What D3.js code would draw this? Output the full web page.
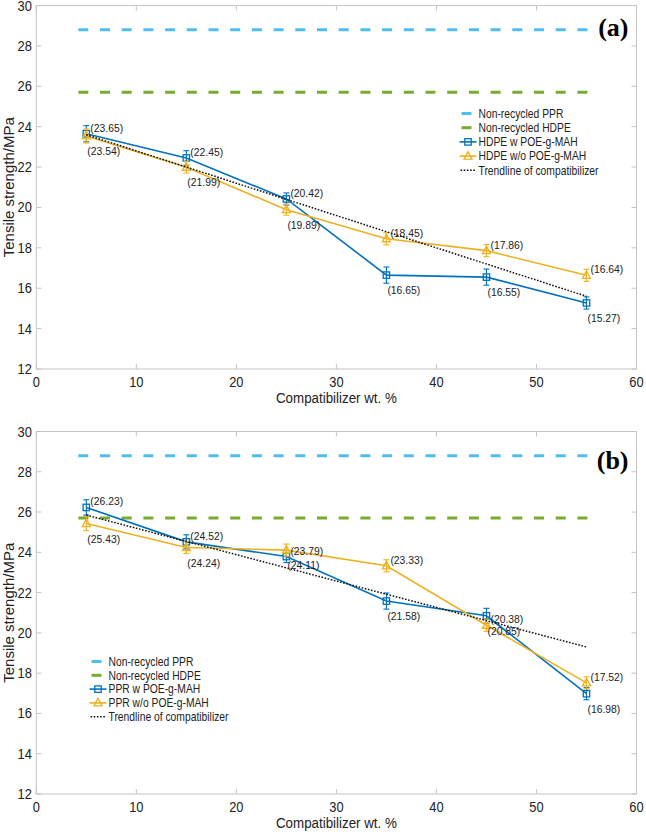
<!DOCTYPE html>
<html><head><meta charset="utf-8">
<script src="https://cdn.jsdelivr.net/npm/d3@7"></script>
<style>body{margin:0;background:#fff}</style>
</head><body>
<svg id="c" width="646" height="832" xmlns="http://www.w3.org/2000/svg"></svg>
<script>
// ---------- data ----------
const xTicks = [0, 10, 20, 30, 40, 50, 60];
const yTicks = [12, 14, 16, 18, 20, 22, 24, 26, 28, 30];
const loadings = [5, 15, 25, 35, 45, 55];
const refRange = [4.2, 55.2];
const refPPR = 28.8;
const refHDPE = 25.7;

// panel (a)
const hdpeWith = [23.65, 22.45, 20.42, 16.65, 16.55, 15.27];
const hdpeWithErr = [0.4, 0.36, 0.3, 0.4, 0.4, 0.3];
const hdpeWithout = [23.54, 21.99, 19.89, 18.45, 17.86, 16.64];
const hdpeWithoutErr = [0.35, 0.28, 0.27, 0.3, 0.3, 0.3];
const trendA = [[5, 23.6], [55, 15.6]];

// panel (b)
const pprWith = [26.23, 24.52, 23.79, 21.58, 20.85, 16.98];
const pprWithErr = [0.38, 0.35, 0.3, 0.4, 0.37, 0.3];
const pprWithout = [25.43, 24.24, 24.11, 23.33, 20.38, 17.52];
const pprWithoutErr = [0.35, 0.3, 0.3, 0.3, 0.3, 0.3];
const trendB = [[5, 25.85], [55, 19.3]];

// label placement: "u" = upper right, "b" = below
const withLabelPos = ["u", "u", "u", "b", "b", "b"];
const withoutLabelPos = ["b", "b", "b", "u", "u", "u"];

const legendA = ["Non-recycled PPR", "Non-recycled HDPE", "HDPE w POE-g-MAH", "HDPE w/o POE-g-MAH", "Trendline of compatibilizer"];
const legendB = ["Non-recycled PPR", "Non-recycled HDPE", "PPR w POE-g-MAH", "PPR w/o POE-g-MAH", "Trendline of compatibilizer"];

// ---------- style ----------
const C_PPR = "#4DBEEE", C_HDPE = "#77AC30", C_W = "#0072BD", C_WO = "#EDB120";
const AXIS = "#c4c4c4", TXT = "#222";
const FONT = "'Liberation Sans', Arial, Helvetica, sans-serif";

const svg = d3.select("#c");

function txt(g, x, y, s, size, k, anchor, opts = {}) {
  return g.append("text")
    .attr("transform", `translate(${x},${y}) scale(${k},1)`)
    .attr("text-anchor", anchor)
    .attr("font-family", opts.family || FONT)
    .attr("font-weight", opts.weight || "normal")
    .attr("font-size", size)
    .attr("fill", opts.fill || TXT)
    .text(s);
}

function marker(g, type, cx, cy, color) {
  if (type === "square") {
    g.append("rect").attr("x", cx - 3.2).attr("y", cy - 3.2).attr("width", 6.4).attr("height", 6.4)
      .attr("fill", "none").attr("stroke", color).attr("stroke-width", 1.3);
  } else {
    const h = 4;
    g.append("path").attr("d", `M${cx},${cy - h - 0.5} L${cx + 4},${cy + h - 1} L${cx - 4},${cy + h - 1} Z`)
      .attr("fill", "none").attr("stroke", color).attr("stroke-width", 1.3);
  }
}

function panel(cfg) {
  const { top, bottom, left, right } = cfg;
  const x = d3.scaleLinear().domain([0, 60]).range([left, right]);
  const y = d3.scaleLinear().domain([12, 30]).range([bottom, top]);
  const g = svg.append("g");

  // frame
  g.append("rect").attr("x", left).attr("y", top).attr("width", right - left).attr("height", bottom - top)
    .attr("fill", "none").attr("stroke", AXIS).attr("stroke-width", 1);

  // ticks (inside, all four sides)
  const tl = 5;
  xTicks.forEach(t => {
    const px = x(t);
    g.append("line").attr("x1", px).attr("x2", px).attr("y1", bottom).attr("y2", bottom - tl).attr("stroke", AXIS);
    g.append("line").attr("x1", px).attr("x2", px).attr("y1", top).attr("y2", top + tl).attr("stroke", AXIS);
    txt(g, px, bottom + 17.7, String(t), 14, 0.92, "middle");
  });
  yTicks.forEach(t => {
    const py = y(t);
    g.append("line").attr("x1", left).attr("x2", left + tl).attr("y1", py).attr("y2", py).attr("stroke", AXIS);
    g.append("line").attr("x1", right).attr("x2", right - tl).attr("y1", py).attr("y2", py).attr("stroke", AXIS);
    txt(g, left - 4.5, py + 5, String(t), 14, 0.92, "end");
  });

  // axis titles
  txt(g, (left + right) / 2, bottom + 34, "Compatibilizer wt. %", 15, 0.89, "middle");
  g.append("text")
    .attr("transform", `translate(13.5,${(top + bottom) / 2}) rotate(-90)`)
    .attr("text-anchor", "middle").attr("font-family", FONT).attr("font-size", 15).attr("fill", TXT)
    .text("Tensile strength/MPa");

  // reference dashed lines
  [[refPPR, C_PPR], [refHDPE, C_HDPE]].forEach(([v, c]) => {
    g.append("line").attr("x1", x(refRange[0])).attr("x2", x(refRange[1])).attr("y1", y(v)).attr("y2", y(v))
      .attr("stroke", c).attr("stroke-width", 3).attr("stroke-dasharray", "10,11.7");
  });

  const line = d3.line().x(d => x(d[0])).y(d => y(d[1]));

  // series
  const series = [
    { vals: cfg.withV, err: cfg.withE, color: C_W, mk: "square", pos: withLabelPos },
    { vals: cfg.withoutV, err: cfg.withoutE, color: C_WO, mk: "triangle", pos: withoutLabelPos }
  ];
  series.forEach(s => {
    const pts = loadings.map((l, i) => [l, s.vals[i]]);
    g.append("path").attr("d", line(pts)).attr("fill", "none").attr("stroke", s.color).attr("stroke-width", 1.6);
    pts.forEach((p, i) => {
      const px = x(p[0]);
      const y1 = y(p[1] - s.err[i]), y2 = y(p[1] + s.err[i]);
      g.append("line").attr("x1", px).attr("x2", px).attr("y1", y1).attr("y2", y2).attr("stroke", s.color).attr("stroke-width", 1.1);
      [y1, y2].forEach(yy => g.append("line").attr("x1", px - 3).attr("x2", px + 3).attr("y1", yy).attr("y2", yy)
        .attr("stroke", s.color).attr("stroke-width", 1.1));
      marker(g, s.mk, px, y(p[1]), s.color);
    });
  });

  // trendline
  g.append("path").attr("d", line(cfg.trend)).attr("fill", "none").attr("stroke", "#111")
    .attr("stroke-width", 1.5).attr("stroke-dasharray", "1.6,1.6");

  // data labels
  series.forEach(s => {
    loadings.forEach((l, i) => {
      const px = x(l), py = y(s.vals[i]);
      const lab = "(" + s.vals[i].toFixed(2) + ")";
      if (s.pos[i] === "u") txt(g, px + 4, py - 2, lab, 11.5, 0.9, "start");
      else txt(g, px + 1, py + 19, lab, 11.5, 0.9, "start");
    });
  });

  // panel letter
  txt(g, right - 8, cfg.letterY, cfg.letter, 26, 1, "end",
    { family: "'Liberation Serif', 'Times New Roman', serif", weight: "bold", fill: "#000" });

  // legend
  const L = cfg.legend;
  const kinds = [
    { t: "ref", c: C_PPR }, { t: "ref", c: C_HDPE },
    { t: "ser", c: C_W, mk: "square" }, { t: "ser", c: C_WO, mk: "triangle" },
    { t: "trend", c: "#111" }
  ];
  kinds.forEach((kd, i) => {
    const ry = L.y + i * L.dy;
    if (kd.t === "ref") {
      g.append("line").attr("x1", L.x + 2).attr("x2", L.x + 12).attr("y1", ry).attr("y2", ry)
        .attr("stroke", kd.c).attr("stroke-width", 3);
    } else if (kd.t === "ser") {
      g.append("line").attr("x1", L.x).attr("x2", L.x + 17).attr("y1", ry).attr("y2", ry)
        .attr("stroke", kd.c).attr("stroke-width", 1.6);
      marker(g, kd.mk, L.x + 8.5, ry, kd.c);
    } else {
      g.append("line").attr("x1", L.x + 1).attr("x2", L.x + 16).attr("y1", ry).attr("y2", ry)
        .attr("stroke", kd.c).attr("stroke-width", 1.5).attr("stroke-dasharray", "1.6,1.6");
    }
    txt(g, L.x + 19, ry + 4.3, cfg.legendLabels[i], 12, 0.86, "start");
  });
}

panel({
  top: 5.5, bottom: 369, left: 36.3, right: 636.5,
  withV: hdpeWith, withE: hdpeWithErr, withoutV: hdpeWithout, withoutE: hdpeWithoutErr,
  trend: trendA, letter: "(a)", letterY: 36,
  legend: { x: 459.5, y: 113.5, dy: 14.2 }, legendLabels: legendA
});
panel({
  top: 431.5, bottom: 794, left: 36.3, right: 636.5,
  withV: pprWith, withE: pprWithErr, withoutV: pprWithout, withoutE: pprWithoutErr,
  trend: trendB, letter: "(b)", letterY: 469,
  legend: { x: 89.5, y: 661.5, dy: 13.8 }, legendLabels: legendB
});
</script>
</body></html>
